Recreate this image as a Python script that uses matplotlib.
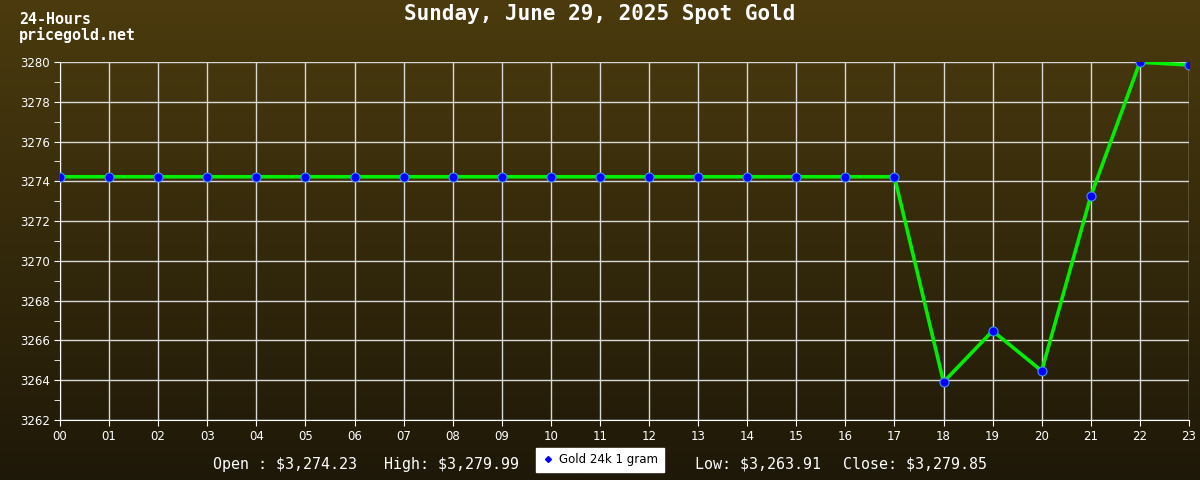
import numpy
import matplotlib
matplotlib.use("Agg")
from matplotlib import pyplot
from matplotlib.lines import Line2D

# data
hours = ["00", "01", "02", "03", "04", "05", "06", "07", "08", "09", "10", "11",
         "12", "13", "14", "15", "16", "17", "18", "19", "20", "21", "22", "23"]
prices = [3274.23, 3274.23, 3274.23, 3274.23, 3274.23, 3274.23, 3274.23, 3274.23,
          3274.23, 3274.23, 3274.23, 3274.23, 3274.23, 3274.23, 3274.23, 3274.23,
          3274.23, 3274.23, 3263.91, 3266.48, 3264.47, 3273.26, 3279.99, 3279.85]
title = "Sunday, June 29, 2025 Spot Gold"
stats = ["Open : \\$3,274.23", "High: \\$3,279.99", "Low: \\$3,263.91", "Close: \\$3,279.85"]
stats_x = [213, 384, 695, 843]
series_name = "Gold 24k 1 gram"

fig = pyplot.figure(figsize=(12, 4.8), dpi=100)

# background gradient
bg = fig.add_axes([0, 0, 1, 1], zorder=-10)
grad = numpy.linspace(0, 1, 256).reshape(-1, 1)
top = numpy.array([0x4b, 0x3b, 0x0e]) / 255.0
bot = numpy.array([0x1e, 0x18, 0x08]) / 255.0
img = top[None, None, :] * (1 - grad[:, :, None]) + bot[None, None, :] * grad[:, :, None]
bg.imshow(img, aspect="auto", extent=[0, 1, 0, 1])
bg.axis("off")

ax = fig.add_axes([0.05, 0.125, 0.9408, 0.7458])
ax.patch.set_alpha(0)
x = numpy.arange(len(hours))
ax.plot(x, prices, color="#00ee00", linewidth=2.6, zorder=3)
ax.plot(x, prices, linestyle="none", marker="o", markersize=6.5,
        markerfacecolor="#0000ff", markeredgecolor="#3f8fff", markeredgewidth=0.8, zorder=4)

ax.set_xlim(0, 23)
ax.set_ylim(3262, 3280)
ax.set_xticks(x)
ax.set_xticklabels(hours)
ax.set_yticks(numpy.arange(3262, 3281, 2))
ax.set_yticks(numpy.arange(3263, 3280, 2), minor=True)
ax.grid(which="major", color="#d8d8d8", linewidth=1.0)
ax.tick_params(colors="white", labelsize=8.5, length=4)
ax.tick_params(which="minor", colors="white", length=4)
for s in ["top", "right"]:
    ax.spines[s].set_visible(False)
for s in ["left", "bottom"]:
    ax.spines[s].set_color("white")

fig.text(0.5, 0.971, title, ha="center", va="center", color="white",
         fontsize=15, fontweight="bold", family="DejaVu Sans Mono")
fig.text(0.016, 0.96, "24-Hours", ha="left", va="center", color="white",
         fontsize=10.8, fontweight="bold", family="DejaVu Sans Mono")
fig.text(0.016, 0.928, "pricegold.net", ha="left", va="center", color="white",
         fontsize=10.8, fontweight="bold", family="DejaVu Sans Mono")

for s, px in zip(stats, stats_x):
    fig.text(px / 1200.0, 0.033, s, ha="left", va="center", color="white",
             fontsize=10.8, family="DejaVu Sans Mono")

handle = Line2D([], [], linestyle="none", marker="D", markersize=3,
                markerfacecolor="#0000ff", markeredgecolor="#0000ff")
leg = fig.legend([handle], [series_name], loc="center", bbox_to_anchor=(0.5, 0.042),
                 frameon=True, fancybox=False, fontsize=8.5, handlelength=1.0,
                 borderpad=0.45, handletextpad=0.5, borderaxespad=0, framealpha=1)
leg.get_frame().set_facecolor("white")
leg.get_frame().set_edgecolor("white")

fig.savefig("out.png", dpi=100)
